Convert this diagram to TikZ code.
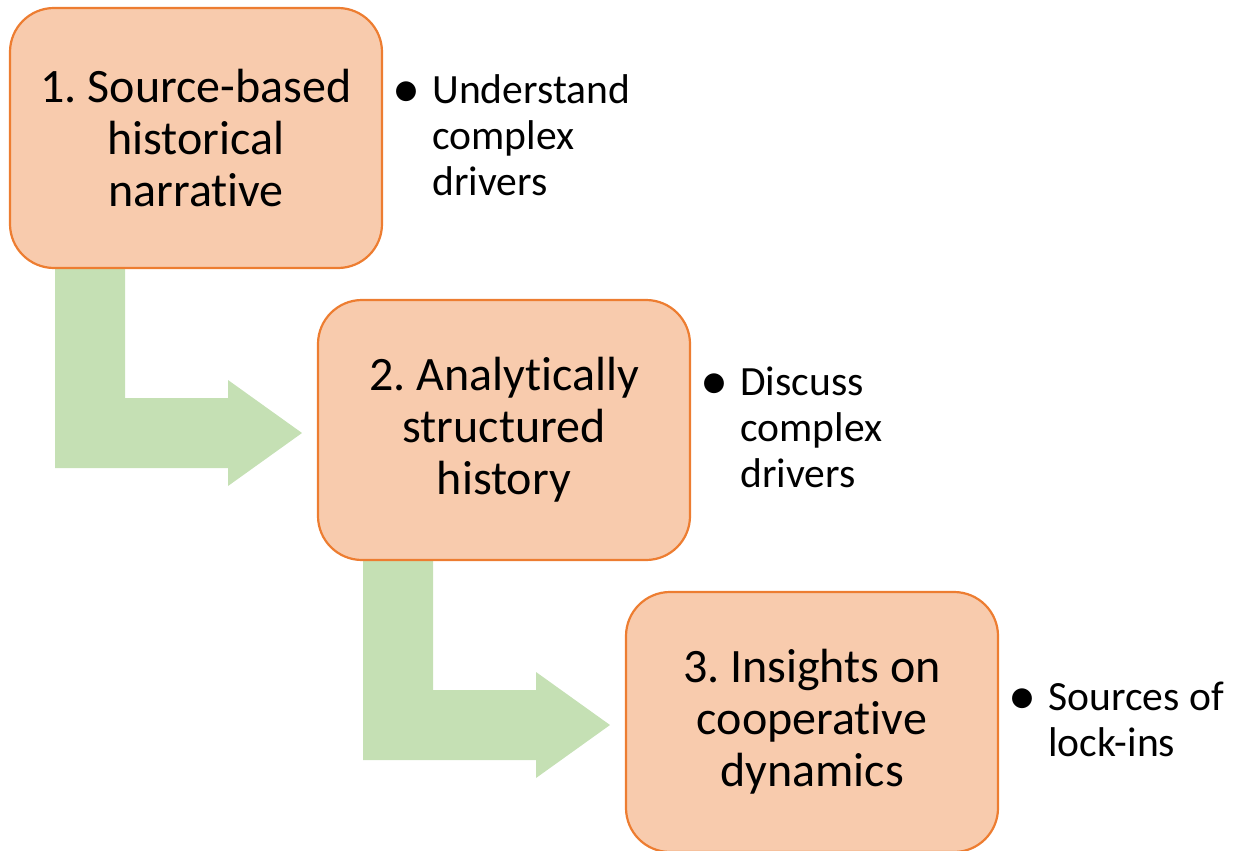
\documentclass[tikz,border=0pt]{standalone}
\usepackage{fontspec}
\setmainfont[Ligatures=CommonOff]{Carlito}
\usetikzlibrary{positioning,calc,backgrounds}
\definecolor{stepfill}{HTML}{F8CBAD}
\definecolor{stepline}{HTML}{ED7D31}
\definecolor{arrowfill}{HTML}{C5E0B4}
\tikzset{
    stepbox/.style={draw=stepline, line width=1.1pt, fill=stepfill, rounded corners=22pt,
        minimum width=186pt, minimum height=130pt, align=center, outer sep=0pt,
        font=\fontsize{24}{26}\selectfont},
    note/.style={anchor=west, inner sep=0pt, align=left,
        font=\fontsize{20.8}{23}\selectfont}
}
\frenchspacing
\newcommand{\bulletlines}[1]{\begin{tabular}{@{}p{20pt}@{}l@{}}\raisebox{-2.2pt}{\scalebox{1.35}{•}} & #1\end{tabular}}
\begin{document}
\begin{tikzpicture}[x=0.5pt, y=0.5pt]
            \useasboundingbox (0,0) rectangle (1234,-850);
            % steps
            \node[stepbox] (box1) at (196,-138) {1. Source-based\\historical\\narrative};
            \node[stepbox, below right=16pt and -32pt of box1] (box2) {2. Analytically\\structured\\history};
            \node[stepbox, below right=16pt and -32pt of box2] (box3) {3. Insights on\\cooperative\\dynamics};
            % notes
            \node[note, right=5pt of box1, yshift=-1pt] (note1) {\bulletlines{Understand\\ & complex\\ & drivers}};
            \node[note, right=5pt of box2, yshift=-1pt] (note2) {\bulletlines{Discuss\\ & complex\\ & drivers}};
            \node[note, right=5pt of box3, yshift=-1pt] (note3) {\bulletlines{Sources of\\ & lock-ins}};
            % bent arrows
            \begin{pgfonlayer}{background}
            \foreach \a/\b in {box1/box2, box2/box3}{
                \coordinate (tip) at ($(\b.west)+(-16,-3)$);
                \fill[arrowfill] ($(\a.south west)+(45,10)$) -- ($(\a.south west)+(115,10)$)
                    |- ($(tip)+(-74,35)$) -- ($(tip)+(-74,53)$) -- (tip)
                    -- ($(tip)+(-74,-53)$) -- ($(tip)+(-74,-35)$)
                    -| cycle;
            }
            \end{pgfonlayer}
        \end{tikzpicture}
\end{document}
